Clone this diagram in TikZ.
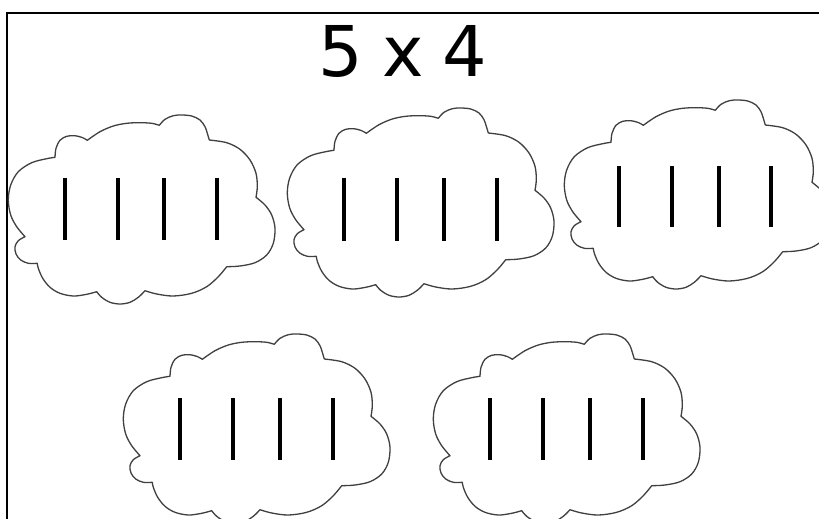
\documentclass[tikz,border=0pt]{standalone}
\usepackage{fontspec}
\newfontfamily\titlefont[WordSpace=0.85]{DejaVu Sans}
\tikzset{
  cloudline/.style={draw=black!75, line width=1.3pt, line join=round},
  tally/.style={line width=4pt, black},
  frameline/.style={line width=2pt, black},
  bump/.style={smooth, tension=0.55},
  cloud/.pic={
    \draw[cloudline] (47,42.3)
      -- plot[bump] coordinates {(47,42.3)(48,33.3)(52,25.3)(58.7,21.3)(67,20.7)(74.7,22.7)(79.3,25.3)}
      -- plot[bump] coordinates {(79.3,25.3)(92,16.7)(105.3,11)(118.7,8.3)(132,7.7)(143.7,8.3)(151.3,10.3)}
      -- plot[bump] coordinates {(151.3,10.3)(157,4.3)(165.3,0.7)(173.7,0)(183.7,1)(192,5)(197,11.7)(199.3,18.3)(201.3,25)}
      -- plot[bump] coordinates {(201.3,25)(218.7,27.7)(232,34.3)(242,45)(248,58.3)(249.3,71.7)(248,82.3)}
      -- plot[bump] coordinates {(248,82.3)(257,90)(263.7,100)(267,113.3)(265.3,128.3)(258.7,140)(247,147.7)(232,151)(218.7,151.7)}
      -- plot[bump] coordinates {(218.7,151.7)(210.3,161.7)(198.7,171.7)(183.7,178.3)(165.3,181)(148.7,179)(137,175.7)}
      -- plot[bump] coordinates {(137,175.7)(130.3,182.3)(122,187.3)(112,189)(102,187.3)(93.7,182.3)(88.7,176.7)}
      -- plot[bump] coordinates {(88.7,176.7)(78.7,179.3)(65.3,181)(52,178.3)(42,172.3)(34.7,163.3)(30.3,153.3)(29.3,148.3)}
      -- plot[bump] coordinates {(29.3,148.3)(20.3,148.3)(12.7,145)(8,139)(7,131.7)(10.3,125.7)(17,121.7)}
      -- plot[bump] coordinates {(17,121.7)(8.7,111.7)(2.7,100)(0.3,85)(2.7,70)(10.3,56.7)(23.7,47.7)(38.7,43.7)(47,42.3)}
      -- cycle;
  }
}
\begin{document}
\begin{tikzpicture}[x=1pt, y=-1pt]
  \useasboundingbox (0,0) rectangle (819,519);
  \clip (0,0) rectangle (819,519);
  \fill[white] (0,0) rectangle (819,519);
  % frame
  \draw[frameline] (6.5,530) -- (6.5,13) -- (830,13);
  % title
  \node[anchor=base, inner sep=0pt, font=\titlefont\fontsize{70}{82}\selectfont] (title) at (403,77) {5 x 4};
  % clouds
  \pic (c1) at (8,115) {cloud};
  \pic (c2) at (287,108) {cloud};
  \pic (c3) at (564,100) {cloud};
  \pic (c4) at (123,334) {cloud};
  \pic (c5) at (433,334) {cloud};
  % tallies
  \foreach \a/\b/\c/\d/\t/\u in {65/118/164/217/178/240, 344/397/444/497/178/241, 619/672/719/771/166/227, 180/233/280/333/398/460, 490/543/590/643/398/460}{
    \foreach \xx in {\a,\b,\c,\d}{
      \draw[tally] (\xx,\t) -- (\xx,\u);
    }
  }
\end{tikzpicture}
\end{document}
